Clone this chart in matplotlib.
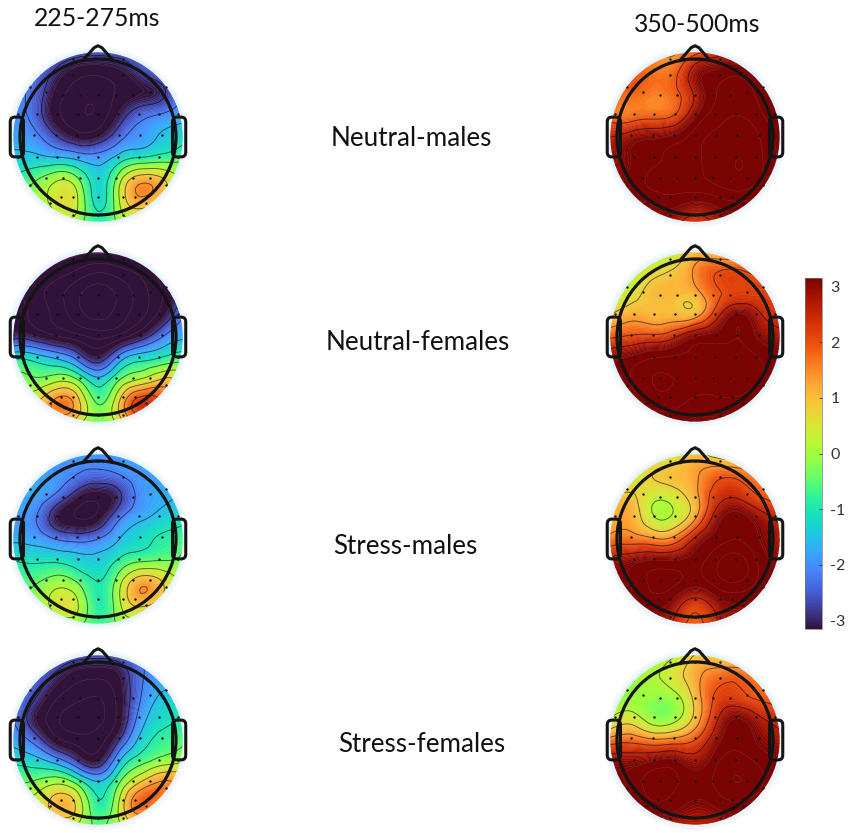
#!/usr/bin/env python

'''Scalp topographies for two time windows, four conditions, with shared colour bar'''

import numpy as np
import matplotlib
matplotlib.use('Agg')
from matplotlib.pyplot import figure, rcParams
from matplotlib.cm import ScalarMappable
from matplotlib.colors import Normalize
from matplotlib.patches import Circle, FancyBboxPatch
from matplotlib.tri import Triangulation, UniformTriRefiner

# values on a 9x9 grid over the scalp, rows run from nose to back of head
early_neutral_males = [
    [-2.1,-2.1,-2.3,-2.5,-2.6,-2.5,-2.3,-2.1,-2.0],
    [-2.1,-2.3,-2.9,-3.4,-3.5,-3.3,-2.8,-2.4,-2.1],
    [-2.1,-2.4,-3.3,-3.8,-3.9,-3.5,-3.2,-2.9,-2.1],
    [-2.0,-2.4,-3.4,-3.9,-3.9,-3.1,-2.4,-2.1,-1.8],
    [-1.8,-2.0,-2.7,-3.3,-3.2,-2.4,-1.9,-1.5,-1.2],
    [-1.4,-1.4,-1.5,-1.7,-1.9,-1.3,-0.9,-0.7,-0.5],
    [-0.9,-0.5, 0.1,-0.2,-1.3, 0.0, 1.2, 0.9, 0.1],
    [-0.6,-0.1, 0.4, 0.3,-1.2, 0.2, 1.2, 0.7,-0.1],
    [-0.6,-0.4,-0.1,-0.2,-0.8,-0.3,-0.1,-0.3,-0.4]]
early_neutral_females = [
    [-3.3,-3.3,-3.4,-3.5,-3.5,-3.5,-3.4,-3.2,-3.0],
    [-3.5,-3.6,-3.8,-4.1,-4.4,-4.2,-3.9,-3.4,-3.2],
    [-3.5,-3.8,-4.2,-4.7,-5.0,-4.7,-4.2,-3.6,-3.0],
    [-3.5,-3.7,-4.1,-4.6,-4.9,-4.6,-4.1,-3.3,-2.2],
    [-3.0,-3.1,-3.5,-3.8,-4.1,-3.8,-3.1,-2.2,-1.7],
    [-1.1,-1.2,-1.6,-2.3,-3.1,-1.9,-1.2,-0.9,-0.6],
    [-0.2,-0.3, 0.0,-0.3,-1.4,-0.4, 0.3, 0.9, 0.5],
    [ 0.1, 0.6, 1.5, 1.1,-0.5, 0.8, 2.3, 1.9, 0.8],
    [ 0.1, 0.3, 0.7, 0.4,-0.4, 0.4, 1.2, 0.9, 0.4]]
early_stress_males = [
    [-2.0,-2.0,-2.0,-1.9,-1.9,-1.9,-1.9,-1.8,-1.8],
    [-1.8,-1.8,-1.9,-2.2,-2.4,-2.2,-1.9,-1.8,-1.7],
    [-1.7,-1.8,-2.3,-3.1,-3.4,-2.9,-2.0,-1.7,-1.5],
    [-1.8,-2.1,-3.1,-3.6,-3.4,-2.3,-1.7,-1.4,-1.2],
    [-1.7,-1.8,-2.2,-2.4,-2.2,-1.6,-1.2,-0.9,-0.6],
    [-1.0,-1.1,-1.1,-1.3,-1.4,-0.9,-0.5,-0.4,-0.2],
    [-0.6,-0.5,-0.1,-0.4,-1.0, 0.0, 1.2, 0.8, 0.1],
    [-0.6,-0.2, 0.4, 0.3,-0.9, 0.1, 1.0, 0.5,-0.1],
    [-0.6,-0.5,-0.3,-0.3,-0.7,-0.3,-0.2,-0.3,-0.3]]
early_stress_females = [
    [-2.0,-2.1,-2.3,-2.5,-2.6,-2.4,-2.1,-1.9,-1.8],
    [-2.2,-2.4,-2.9,-3.4,-3.5,-3.2,-2.3,-1.9,-1.6],
    [-2.1,-2.7,-3.5,-3.9,-4.0,-3.4,-2.2,-1.5,-1.2],
    [-2.1,-3.1,-3.9,-4.2,-4.1,-3.4,-1.9,-1.2,-0.9],
    [-1.8,-2.4,-3.4,-3.8,-3.8,-2.8,-1.4,-0.8,-0.5],
    [-1.1,-1.3,-1.8,-2.7,-3.2,-1.6,-0.6,-0.1, 0.2],
    [-0.4,-0.3, 0.1,-0.5,-1.5,-0.4, 0.9, 1.5, 1.3],
    [ 0.0, 0.4, 1.0, 0.7,-0.9, 0.3, 1.8, 1.3, 0.8],
    [ 0.0, 0.1, 0.3, 0.1,-0.5, 0.1, 0.5, 0.4, 0.3]]
late_neutral_males = [
    [1.2,1.2,1.4,1.3,1.7,2.3,2.5,2.2,1.9],
    [1.6,1.8,1.7,1.8,2.9,3.3,3.5,3.1,2.7],
    [1.7,1.8,1.6,1.8,2.7,3.6,3.8,3.5,3.0],
    [1.8,1.7,1.8,2.0,3.1,3.8,4.0,3.7,3.3],
    [2.6,2.9,3.1,3.3,3.8,4.1,4.3,4.0,3.4],
    [2.9,3.2,3.5,3.7,3.9,4.2,4.4,4.1,3.5],
    [3.0,3.3,3.7,3.8,3.9,4.1,4.3,4.0,3.4],
    [2.9,3.1,3.3,3.4,3.2,3.4,3.6,3.4,3.0],
    [2.6,2.8,2.9,2.8,2.2,2.7,2.9,2.9,2.7]]
late_neutral_females = [
    [-0.3,-0.3,-0.1,0.2,1.0,0.8,0.6,0.9,1.2],
    [-0.1,0.1,0.6,0.9,1.5,2.0,2.1,1.9,1.7],
    [0.0,0.5,1.0,1.05,1.15,1.9,2.2,2.2,2.0],
    [0.8,1.2,1.1,1.1,1.2,2.4,3.3,2.7,2.3],
    [1.9,2.1,2.2,2.5,3.2,3.4,3.6,3.1,2.8],
    [3.0,3.3,3.6,3.7,3.7,3.8,3.8,3.6,3.2],
    [3.1,3.6,4.0,4.0,3.8,3.8,3.8,3.6,3.2],
    [3.0,3.4,3.8,3.8,3.5,3.5,3.5,3.3,3.0],
    [2.8,3.0,3.2,3.2,3.1,3.0,3.0,3.0,2.8]]
late_stress_males = [
    [-0.2,-0.2,0.0,0.3,1.0,0.4,0.1,0.2,0.6],
    [0.0,0.3,0.8,1.0,1.3,1.8,1.8,1.4,1.2],
    [0.6,0.9,0.4,0.5,1.2,2.3,2.5,2.0,1.6],
    [1.0,1.2,0.3,0.3,1.3,2.9,3.4,2.9,2.4],
    [1.6,1.7,1.5,1.6,2.7,3.4,3.6,3.2,2.7],
    [2.7,3.0,3.2,3.2,3.4,3.9,4.2,3.5,3.0],
    [3.0,3.2,3.7,3.7,3.4,3.8,4.0,3.5,3.0],
    [2.9,3.2,3.4,3.0,2.3,2.9,3.2,3.1,2.9],
    [2.8,2.9,2.9,2.5,1.8,2.5,2.8,2.9,2.8]]
late_stress_females = [
    [-0.2,-0.2,-0.1,0.1,0.8,0.6,0.2,0.3,0.6],
    [-0.2,-0.1,0.1,0.5,1.2,1.7,1.8,1.5,1.3],
    [-0.2,-0.1,-0.1,0.0,1.0,2.1,2.2,1.9,1.7],
    [0.2,0.5,-0.1,0.0,1.0,2.5,3.2,2.7,2.3],
    [1.6,1.8,1.5,1.6,2.0,3.0,3.5,3.1,2.8],
    [2.9,3.0,3.2,3.3,2.9,3.5,3.8,3.5,3.2],
    [3.0,3.3,3.8,3.7,3.4,3.7,4.0,3.7,3.2],
    [2.9,3.2,3.5,3.4,3.1,3.3,3.5,3.3,3.0],
    [2.7,2.9,2.8,2.7,2.6,2.7,2.8,2.8,2.7]]

grid_axis = [-1.1,-0.825,-0.55,-0.275,0.0,0.275,0.55,0.825,1.1]

# electrode sites, as (row height, across the row)
sites = [(1.0,[-.32,0,.32]),(.79,[-.32,.32]),(.64,[-.87,.87]),(.58,[-.665,.665]),
         (.54,[-.45,-.23,0,.23,.45]),(.3,[-1.02,-.78,-.52,-.26,0,.26,.52,.78,1.02]),
         (.02,[-.82,-.54,-.27,0,.27,.54,.82]),(-.25,[-1.02,-.78,-.52,-.26,0,.26,.52,.78,1.02]),
         (-.52,[-.665,-.45,-.23,0,.23,.45,.665]),(-.62,[-.87,.87]),
         (-.77,[-.48,-.32,0,.32,.48]),(-.84,[-.62,.62]),(-1.0,[-.32,0,.32])]

column_x = [98,695]
row_y = [137,337,539,740]
conditions = ['Neutral-males','Neutral-females','Stress-males','Stress-females']
condition_xy = [(411,139),(418,343),(405,546),(422,745)]
windows = ['225-275ms','350-500ms']
window_xy = [(97,19),(697,25)]
bar_ticks = [-3,-2,-1,0,1,2,3]

W,H = 851,833
R = 78            # radius of head outline, pixels
SPAN = 1.25       # half width of each map's axes, in head radii
VMAX = 3.15


def add_scalp(fig,cx,cy,values,norm,triangulation):
    '''
    Draw one scalp map
    Parameters:
        cx,cy     Centre of head in pixels, from top left of the figure
        values    Grid of values
    '''
    size = 2*SPAN*R
    ax = fig.add_axes([(cx-size/2)/W,1-(cy+size/2)/H,size/W,size/H])
    ax.set_xlim(-SPAN,SPAN)
    ax.set_ylim(-SPAN,SPAN)
    ax.axis('off')

    ax.add_patch(Circle((0,0),1.16,fc='#eef6fc',ec='none',alpha=.6,zorder=0))
    ax.add_patch(Circle((0,0),1.12,fc='#e8f2fa',ec='none',zorder=0))
    disc = Circle((0,0),1.085,fc='none',ec='none',transform=ax.transData)
    ax.add_patch(disc)

    refiner = UniformTriRefiner(triangulation)
    fine,z = refiner.refine_field(np.array(values,dtype=float).ravel(),subdiv=3)
    fill = ax.tricontourf(fine,z,levels=np.linspace(-VMAX,VMAX,96),cmap='turbo',norm=norm,
                          extend='both',zorder=1,antialiased=True)
    fill.set_edgecolor('face')
    fill.set_linewidth(.3)
    fill.set_clip_path(disc)
    lines = ax.tricontour(fine,z,levels=np.arange(-2.8,2.7,.6),colors='k',linewidths=.7,alpha=.55,
                          linestyles='solid',zorder=2)
    lines.set_clip_path(disc)
    faint = ax.tricontour(fine,z,levels=[l for l in np.arange(-6,6.01,.4) if abs(l) > 3.05],
                          colors='#a06a50',linewidths=.4,alpha=.35,linestyles='solid',zorder=2)
    faint.set_clip_path(disc)

    xs = [x for _,row in sites for x in row]
    ys = [y for y,row in sites for _ in row]
    ax.scatter(xs,ys,s=3,c='#111111',linewidths=0,zorder=3)

    ax.add_patch(Circle((0,0),1,fc='none',ec='#141414',lw=2.3,zorder=4))
    ax.plot([-.19,-.05,0,.05,.19],[.985,1.145,1.17,1.145,.985],c='#141414',lw=2.2,
            solid_joinstyle='round',zorder=4)
    for x0 in [-1.08,1.0]:
        ax.add_patch(FancyBboxPatch((x0,-.21),.08,.42,boxstyle='round,pad=0.045,rounding_size=0.06',
                                    fc='none',ec='#141414',lw=2.2,zorder=4))


if __name__=='__main__':
    rcParams['font.family'] = ['Lato','DejaVu Sans']
    rcParams['axes.unicode_minus'] = False

    fig = figure(figsize=(W/100,H/100),dpi=100,facecolor='white')
    norm = Normalize(-VMAX,VMAX)

    gx,gy = np.meshgrid(grid_axis,grid_axis[::-1])
    triangulation = Triangulation(gx.ravel(),gy.ravel())

    maps = [[early_neutral_males,early_neutral_females,early_stress_males,early_stress_females],
            [late_neutral_males,late_neutral_females,late_stress_males,late_stress_females]]
    for i,cx in enumerate(column_x):
        for j,cy in enumerate(row_y):
            add_scalp(fig,cx,cy,maps[i][j],norm,triangulation)

    for label,(x,y) in zip(windows,window_xy):
        fig.text(x/W,1-y/H,label,ha='center',va='center',fontsize=17.8,color='#111111')
    for label,(x,y) in zip(conditions,condition_xy):
        fig.text(x/W,1-y/H,label,ha='center',va='center',fontsize=18.7,color='#111111')

    cax = fig.add_axes([805/W,1-629/H,17/W,351/H])
    bar = fig.colorbar(ScalarMappable(norm=norm,cmap='turbo'),cax=cax)
    bar.set_ticks(bar_ticks)
    bar.ax.tick_params(direction='in',length=2.5,width=.6,labelsize=11.5,pad=6,colors='#333333')
    bar.outline.set_linewidth(.5)
    bar.outline.set_edgecolor('#777777')

    fig.savefig('out.png',dpi=100)
